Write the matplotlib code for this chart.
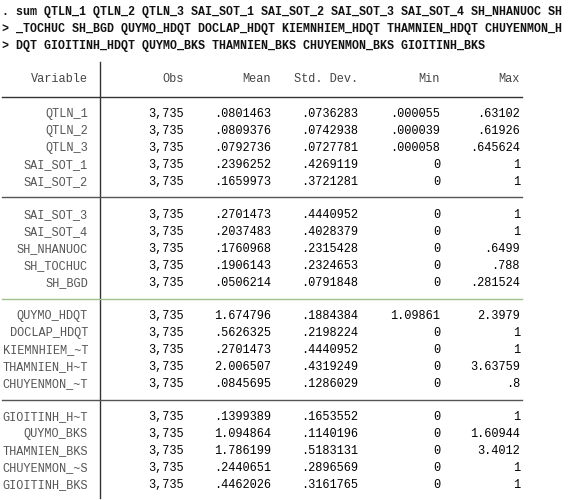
import matplotlib.pyplot as plt
from matplotlib.lines import Line2D

cmd_lines = [
    ". sum QTLN_1 QTLN_2 QTLN_3 SAI_SOT_1 SAI_SOT_2 SAI_SOT_3 SAI_SOT_4 SH_NHANUOC SH",
    "> _TOCHUC SH_BGD QUYMO_HDQT DOCLAP_HDQT KIEMNHIEM_HDQT THAMNIEN_HDQT CHUYENMON_H",
    "> DQT GIOITINH_HDQT QUYMO_BKS THAMNIEN_BKS CHUYENMON_BKS GIOITINH_BKS",
]
columns = ["Variable", "Obs", "Mean", "Std. Dev.", "Min", "Max"]
variables = ["QTLN_1", "QTLN_2", "QTLN_3", "SAI_SOT_1", "SAI_SOT_2",
             "SAI_SOT_3", "SAI_SOT_4", "SH_NHANUOC", "SH_TOCHUC", "SH_BGD",
             "QUYMO_HDQT", "DOCLAP_HDQT", "KIEMNHIEM_~T", "THAMNIEN_H~T", "CHUYENMON_~T",
             "GIOITINH_H~T", "QUYMO_BKS", "THAMNIEN_BKS", "CHUYENMON_~S", "GIOITINH_BKS"]
obs = ["3,735"] * 20
means = [".0801463", ".0809376", ".0792736", ".2396252", ".1659973",
         ".2701473", ".2037483", ".1760968", ".1906143", ".0506214",
         "1.674796", ".5626325", ".2701473", "2.006507", ".0845695",
         ".1399389", "1.094864", "1.786199", ".2440651", ".4462026"]
sds = [".0736283", ".0742938", ".0727781", ".4269119", ".3721281",
       ".4440952", ".4028379", ".2315428", ".2324653", ".0791848",
       ".1884384", ".2198224", ".4440952", ".4319249", ".1286029",
       ".1653552", ".1140196", ".5183131", ".2896569", ".3161765"]
mins = [".000055", ".000039", ".000058", "0", "0",
        "0", "0", "0", "0", "0",
        "1.09861", "0", "0", "0", "0",
        "0", "0", "0", "0", "0"]
maxs = [".63102", ".61926", ".645624", "1", "1",
        "1", "1", ".6499", ".788", ".281524",
        "2.3979", "1", "1", "3.63759", ".8",
        "1", "1.60944", "3.4012", "1", "1"]

W, H = 582, 500
fig = plt.figure(figsize=(W / 100, H / 100), dpi=100)
ax = fig.add_axes([0, 0, 1, 1])
ax.set_xlim(0, W)
ax.set_ylim(H, 0)
ax.axis("off")

mono = "Liberation Mono"
for i, line in enumerate(cmd_lines):
    ax.text(2, 12 + i * 17, line, family=mono, fontsize=8.4, fontweight="bold",
            va="center", ha="left", color="#111111")

col_right = [88, 184, 271, 358, 440, 520]
for x, c in zip(col_right, columns):
    ax.text(x, 79, c, family=mono, fontsize=8.6, va="center", ha="right", color="#444444")

# table rules
ax.add_line(Line2D([2, 522], [97, 97], color="#333333", lw=1))
ax.add_line(Line2D([100, 100], [62, 498], color="#333333", lw=1))
seps = [(197, "#555555"), (299, "#a0c090"), (400, "#555555")]
for y, c in seps:
    ax.add_line(Line2D([2, 522], [y, y], color=c, lw=1))

for i in range(len(variables)):
    block = i // 5
    y = 114 + block * 101 + (i % 5) * 17
    ax.text(col_right[0], y, variables[i], family=mono, fontsize=8.6,
            va="center", ha="right", color="#555555")
    for x, v in zip(col_right[1:], [obs[i], means[i], sds[i], mins[i], maxs[i]]):
        ax.text(x, y, v, family=mono, fontsize=8.6, va="center", ha="right", color="#000000")

fig.savefig("out.png", dpi=100)
